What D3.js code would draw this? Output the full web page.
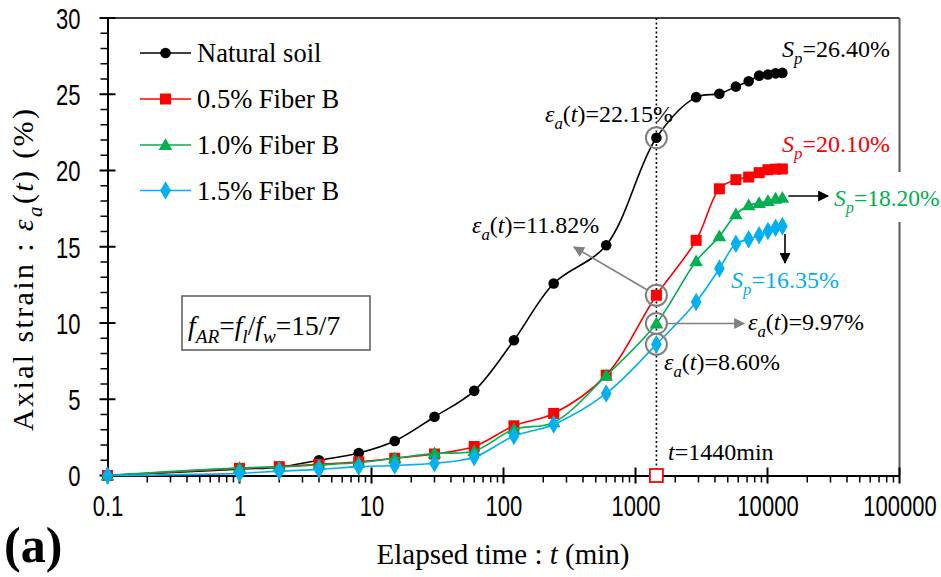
<!DOCTYPE html>
<html>
<head>
<meta charset="utf-8">
<script src="https://cdn.jsdelivr.net/npm/d3@7"></script>
<style>
  body { margin: 0; background: #fff; }
  svg { display: block; }
</style>
</head>
<body>
<svg id="chart" width="941" height="577"></svg>
<script>
// Elapsed time (min) of each reading
const times = [0.1, 1, 2, 4, 8, 15, 30, 60, 120, 240, 600, 1440, 2880, 4320, 5760, 7200, 8640, 10080, 11520, 12960];

// Axial strain (%) per specimen
const naturalSoil = [0, 0.42, 0.55, 1.0, 1.47, 2.26, 3.85, 5.55, 8.87, 12.59, 15.1, 22.15, 24.81, 25.03, 25.5, 25.85, 26.22, 26.3, 26.37, 26.40];
const fiber05 = [0, 0.47, 0.58, 0.73, 0.9, 1.13, 1.41, 1.9, 3.26, 4.07, 6.58, 11.82, 15.42, 18.8, 19.4, 19.57, 19.86, 20.05, 20.09, 20.10];
const fiber10 = [0, 0.5, 0.55, 0.69, 0.85, 1.13, 1.45, 1.6, 3.03, 3.48, 6.55, 9.97, 14.05, 15.68, 17.12, 17.71, 17.87, 18.0, 18.15, 18.20];
const fiber15 = [0, 0.14, 0.29, 0.4, 0.58, 0.66, 0.8, 1.2, 2.59, 3.35, 5.38, 8.60, 11.38, 13.57, 15.2, 15.49, 15.75, 16.03, 16.25, 16.35];

const seriesNames = ["Natural soil", "0.5% Fiber B", "1.0% Fiber B", "1.5% Fiber B"];
const seriesColors = ["#000000", "#FF0000", "#00B050", "#00B0F0"];
const seriesSymbols = ["circle", "square", "triangle", "diamond"];

const xTicks = [0.1, 1, 10, 100, 1000, 10000, 100000];
const xTickLabels = ["0.1", "1", "10", "100", "1000", "10000", "100000"];
const yTicks = [0, 5, 10, 15, 20, 25, 30];

const markTime = 1440;

const svg = d3.select("#chart");
const plot = { left: 107.5, right: 899.5, top: 18, bottom: 475.5 };

const x = d3.scaleLog().domain([0.1, 100000]).range([plot.left, plot.right]);
const y = d3.scaleLinear().domain([0, 30]).range([plot.bottom, plot.top]);

const serif = "'Liberation Serif', 'Times New Roman', serif";
const sans = "'Liberation Sans', Arial, sans-serif";

// arrowheads
const defs = svg.append("defs");
function arrowHead(id, color) {
  defs.append("marker")
    .attr("id", id).attr("viewBox", "0 0 10 10")
    .attr("refX", 9).attr("refY", 5)
    .attr("markerUnits", "userSpaceOnUse")
    .attr("markerWidth", 13).attr("markerHeight", 11)
    .attr("orient", "auto")
    .append("path").attr("d", "M0,0 L10,5 L0,10 Z").attr("fill", color);
}
arrowHead("arrGray", "#808080");
arrowHead("arrBlack", "#000000");

// frame: top and right borders
svg.append("line").attr("x1", plot.left).attr("x2", plot.right)
  .attr("y1", plot.top).attr("y2", plot.top)
  .attr("stroke", "#000").attr("stroke-width", 1.5);
svg.append("line").attr("x1", plot.right).attr("x2", plot.right)
  .attr("y1", plot.top).attr("y2", plot.bottom)
  .attr("stroke", "#595959").attr("stroke-width", 2);

// ---- x axis (log) ----
const xAxis = d3.axisBottom(x).tickValues(xTicks)
  .tickFormat((d, i) => xTickLabels[i]).tickSize(0).tickPadding(0);
const gx = svg.append("g").attr("transform", `translate(0,${plot.bottom})`).call(xAxis);
gx.select(".domain").attr("stroke", "#000").attr("stroke-width", 2);
gx.selectAll("text")
  .attr("y", 41).attr("dy", null)
  .attr("font-family", sans).attr("font-size", 29)
  .attr("fill", "#000")
  .attr("transform", "scale(0.76,1)");
const minorX = [];
for (let e = -1; e < 5; e++) for (let m = 2; m <= 9; m++) minorX.push(m * Math.pow(10, e));
svg.append("g").selectAll("line").data(minorX).join("line")
  .attr("x1", d => x(d)).attr("x2", d => x(d))
  .attr("y1", plot.bottom).attr("y2", plot.bottom + 7)
  .attr("stroke", "#000").attr("stroke-width", 1.5);
svg.append("g").selectAll("line").data(xTicks).join("line")
  .attr("x1", d => x(d)).attr("x2", d => x(d))
  .attr("y1", plot.bottom - 8).attr("y2", plot.bottom + 8)
  .attr("stroke", "#000").attr("stroke-width", 2);

// ---- y axis ----
const yAxis = d3.axisLeft(y).tickValues(yTicks).tickSize(0).tickPadding(0);
const gy = svg.append("g").attr("transform", `translate(${plot.left},0)`).call(yAxis);
gy.select(".domain").attr("stroke", "#000").attr("stroke-width", 2);
gy.selectAll("text")
  .attr("x", -27 / 0.76).attr("dy", "0.36em")
  .attr("font-family", sans).attr("font-size", 29)
  .attr("fill", "#000")
  .attr("transform", "scale(0.76,1)");
const minorY = d3.range(0, 31).filter(v => v % 5 !== 0);
svg.append("g").selectAll("line").data(minorY).join("line")
  .attr("x1", plot.left - 7).attr("x2", plot.left)
  .attr("y1", d => y(d)).attr("y2", d => y(d))
  .attr("stroke", "#000").attr("stroke-width", 1.5);
svg.append("g").selectAll("line").data(yTicks).join("line")
  .attr("x1", plot.left - 8).attr("x2", plot.left + 8)
  .attr("y1", d => y(d)).attr("y2", d => y(d))
  .attr("stroke", "#000").attr("stroke-width", 2);

// ---- rich text helper: segments of {t, i (italic), s (subscript)} ----
function richText(g, px, py, segs, opts) {
  const fs = opts.size;
  const t = g.append("text").attr("x", px).attr("y", py)
    .attr("font-family", serif).attr("font-size", fs)
    .attr("fill", opts.color || "#000");
  if (opts.anchor) t.attr("text-anchor", opts.anchor);
  if (opts.transform) t.attr("transform", opts.transform);
  if (opts.length) t.attr("textLength", opts.length).attr("lengthAdjust", "spacing");
  let prevSub = false;
  segs.forEach(sg => {
    const sp = t.append("tspan").text(sg.t);
    if (sg.i) sp.attr("font-style", "italic");
    if (sg.s && !prevSub) { sp.attr("dy", fs * 0.3).attr("font-size", fs * 0.7); }
    else if (sg.s) { sp.attr("font-size", fs * 0.7); }
    else if (prevSub) { sp.attr("dy", -fs * 0.3); }
    prevSub = !!sg.s;
  });
  return t;
}
const eps = (val) => [{ t: "ε", i: 1 }, { t: "a", i: 1, s: 1 }, { t: "(" }, { t: "t", i: 1 }, { t: ")=" + val }];
const sp = (val) => [{ t: "S", i: 1 }, { t: "p", i: 1, s: 1 }, { t: "=" + val }];

// axis titles
richText(svg, 503, 564, [{ t: "Elapsed time : " }, { t: "t", i: 1 }, { t: " (min)" }],
  { size: 29, anchor: "middle" });
richText(svg, 0, 0, [{ t: "Axial strain : " }, { t: "ε", i: 1 }, { t: "a", i: 1, s: 1 }, { t: "(" }, { t: "t", i: 1 }, { t: ") (%)" }],
  { size: 30, anchor: "middle", length: 322, transform: "translate(33,270) rotate(-90)" });
svg.append("text").attr("x", 4).attr("y", 562)
  .attr("font-family", serif).attr("font-size", 50).attr("font-weight", "bold")
  .text("(a)");

// vertical reference line at t = 1440 min
svg.append("line").attr("x1", x(markTime)).attr("x2", x(markTime))
  .attr("y1", plot.top).attr("y2", plot.bottom)
  .attr("stroke", "#000").attr("stroke-width", 1.6).attr("stroke-dasharray", "2,2.5");

// ---- series ----
const allSeries = [naturalSoil, fiber05, fiber10, fiber15];
const line = d3.line().x(d => x(d.t)).y(d => y(d.v)).curve(d3.curveCatmullRom.alpha(0.5));

function drawSymbol(g, kind, cx, cy, color) {
  if (kind === "circle") {
    g.append("circle").attr("cx", cx).attr("cy", cy).attr("r", 5.3).attr("fill", color);
  } else if (kind === "square") {
    g.append("rect").attr("x", cx - 5.5).attr("y", cy - 5.5).attr("width", 11).attr("height", 11).attr("fill", color);
  } else if (kind === "triangle") {
    g.append("path").attr("transform", `translate(${cx},${cy + 1})`)
      .attr("d", d3.symbol(d3.symbolTriangle, 80)()).attr("fill", color);
  } else {
    g.append("path").attr("transform", `translate(${cx},${cy})`)
      .attr("d", d3.symbol(d3.symbolDiamond, 100)()).attr("fill", color);
  }
}

allSeries.forEach((vals, k) => {
  const pts = times.map((t, i) => ({ t, v: vals[i] }));
  const g = svg.append("g");
  g.append("path").attr("d", line(pts)).attr("fill", "none")
    .attr("stroke", seriesColors[k]).attr("stroke-width", 1.6);
  pts.forEach(p => drawSymbol(g, seriesSymbols[k], x(p.t), y(p.v), seriesColors[k]));
});

// ---- legend ----
const legendRows = [53, 99, 145, 190.5];
seriesNames.forEach((name, k) => {
  const g = svg.append("g");
  const ly = legendRows[k];
  g.append("line").attr("x1", 140).attr("x2", 191).attr("y1", ly).attr("y2", ly)
    .attr("stroke", seriesColors[k]).attr("stroke-width", 1.6);
  drawSymbol(g, seriesSymbols[k], 165.5, ly, seriesColors[k]);
  g.append("text").attr("x", 197).attr("y", ly + 9)
    .attr("font-family", serif).attr("font-size", 26.5).attr("fill", "#000").text(name);
});

// ---- annotations ----
const ix = x(markTime);
const hiIdx = times.indexOf(markTime);
const circ = (v) => svg.append("circle").attr("cx", ix).attr("cy", y(v)).attr("r", 10.5)
  .attr("fill", "none").attr("stroke", "#808080").attr("stroke-width", 2);
circ(naturalSoil[hiIdx]);
circ(fiber05[hiIdx]);
circ(fiber10[hiIdx]);
circ(fiber15[hiIdx]);

// grey arrows from highlighted points
{
  const cy = y(fiber05[hiIdx]);
  const tx = 574, ty = 247;
  const dx = tx - ix, dy = ty - cy, L = Math.hypot(dx, dy);
  svg.append("line").attr("x1", ix + dx / L * 10.5).attr("y1", cy + dy / L * 10.5)
    .attr("x2", tx).attr("y2", ty)
    .attr("stroke", "#808080").attr("stroke-width", 1.6).attr("marker-end", "url(#arrGray)");
}
svg.append("line").attr("x1", ix + 10.5).attr("x2", 744)
  .attr("y1", y(fiber10[hiIdx])).attr("y2", y(fiber10[hiIdx]))
  .attr("stroke", "#808080").attr("stroke-width", 1.6).attr("marker-end", "url(#arrGray)");

// black arrows toward final-strain labels
const lastIdx = times.length - 1;
svg.append("line").attr("x1", x(times[lastIdx]) + 6).attr("x2", 828)
  .attr("y1", 196).attr("y2", 196)
  .attr("stroke", "#000").attr("stroke-width", 1.6).attr("marker-end", "url(#arrBlack)");
svg.append("line").attr("x1", 785).attr("x2", 785)
  .attr("y1", 234).attr("y2", 263)
  .attr("stroke", "#000").attr("stroke-width", 1.6).attr("marker-end", "url(#arrBlack)");

// value labels
richText(svg, 545, 122, eps("22.15%"), { size: 24 });
richText(svg, 472, 233, eps("11.82%"), { size: 24 });
richText(svg, 748, 330, eps("9.97%"), { size: 24 });
richText(svg, 664, 370, eps("8.60%"), { size: 24 });
richText(svg, 782, 57, sp("26.40%"), { size: 24 });
richText(svg, 782, 152, sp("20.10%"), { size: 24, color: "#FF0000" });
svg.append("rect").attr("x", 832).attr("y", 172).attr("width", 109).attr("height", 50).attr("fill", "#fff");
richText(svg, 834, 206, sp("18.20%"), { size: 23.5, color: "#00B050" });
richText(svg, 731, 288, sp("16.35%"), { size: 24, color: "#00B0F0" });
richText(svg, 668, 460, [{ t: "t", i: 1 }, { t: "=1440min" }], { size: 24 });

// aspect ratio box
svg.append("rect").attr("x", 182).attr("y", 296).attr("width", 188).attr("height", 54)
  .attr("fill", "#fff").attr("stroke", "#595959").attr("stroke-width", 1.5);
richText(svg, 188, 335,
  [{ t: "f", i: 1 }, { t: "AR", i: 1, s: 1 }, { t: "=" }, { t: "f", i: 1 }, { t: "l", i: 1, s: 1 }, { t: "/" }, { t: "f", i: 1 }, { t: "w", i: 1, s: 1 }, { t: "=15/7" }],
  { size: 27.5 });

// open marker on the time axis at t = 1440 min
svg.append("rect").attr("x", ix - 6.5).attr("y", plot.bottom - 6.5).attr("width", 13).attr("height", 13)
  .attr("fill", "#fff").attr("stroke", "#FF0000").attr("stroke-width", 1.8);
</script>
</body>
</html>
